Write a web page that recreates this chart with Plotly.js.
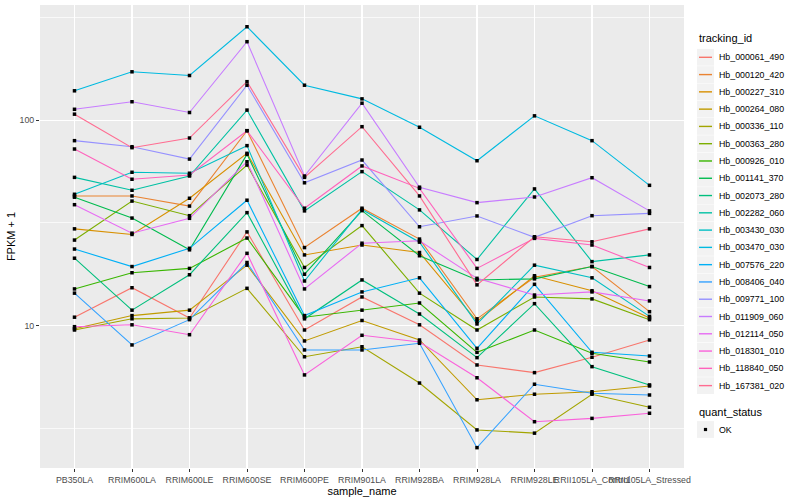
<!DOCTYPE html>
<html><head><meta charset="utf-8">
<script src="https://cdn.plot.ly/plotly-3.0.1.min.js"></script>
<style>body{margin:0;background:#fff}#chart{width:800px;height:500px}</style>
</head><body><div id="chart"></div>
<script>
const samples = ["PB350LA","RRIM600LA","RRIM600LE","RRIM600SE","RRIM600PE","RRIM901LA","RRIM928BA","RRIM928LA","RRIM928LE","RRII105LA_Control","RRII105LA_Stressed"];
const trackingIds = ["Hb_000061_490","Hb_000120_420","Hb_000227_310","Hb_000264_080","Hb_000336_110","Hb_000363_280","Hb_000926_010","Hb_001141_370","Hb_002073_280","Hb_002282_060","Hb_003430_030","Hb_003470_030","Hb_007576_220","Hb_008406_040","Hb_009771_100","Hb_011909_060","Hb_012114_050","Hb_018301_010","Hb_118840_050","Hb_167381_020"];
const colors = ["#F8766D","#EA8331","#D89000","#C09B00","#A3A500","#7CAE00","#39B600","#00BB4E","#00BF7D","#00C1A3","#00BFC4","#00BAE0","#00B0F6","#35A2FF","#9590FF","#C77CFF","#E76BF3","#FA62DB","#FF62BC","#FF6C91"];
const quantStatus = ["OK"];

// FPKM + 1 per sample, one array per tracking_id
const hb_000061_490 = [11.0, 15.3, 10.9, 28.6, 9.53, 13.8, 10.1, 6.44, 5.91, 7.02, 8.52];
const hb_000120_420 = [42.8, 42.8, 38.2, 88.9, 24.0, 37.3, 26.4, 10.8, 17.2, 19.4, 11.7];
const hb_000227_310 = [29.6, 27.8, 41.7, 69.0, 22.1, 24.7, 22.7, 10.5, 17.5, 14.8, 10.9];
const hb_000264_080 = [9.67, 11.2, 11.9, 19.7, 8.43, 10.6, 8.52, 4.36, 4.64, 4.77, 5.09];
const hb_000336_110 = [9.53, 10.8, 10.9, 15.2, 7.06, 7.90, 5.26, 3.11, 3.00, 4.64, 4.01];
const hb_000363_280 = [26.1, 40.4, 34.3, 60.5, 19.2, 30.7, 14.4, 9.53, 13.8, 13.5, 10.7];
const hb_000926_010 = [15.1, 18.1, 19.0, 26.7, 11.0, 11.9, 12.9, 7.42, 9.53, 7.34, 6.66];
const hb_001141_370 = [42.2, 33.4, 23.4, 68.2, 17.8, 36.3, 21.9, 16.7, 16.9, 19.4, 15.5];
const hb_002073_280 = [21.3, 11.9, 17.7, 35.5, 10.8, 16.7, 11.4, 6.99, 12.8, 6.32, 5.15];
const hb_002282_060 = [52.7, 45.6, 53.5, 112, 36.2, 56.2, 36.6, 21.0, 46.3, 20.5, 22.1];
const hb_003430_030 = [43.6, 55.8, 55.2, 75.2, 16.5, 36.8, 25.5, 10.2, 19.7, 17.1, 11.1];
const hb_003470_030 = [139, 172, 165, 285, 148, 127, 92.4, 63.5, 105, 79.5, 48.2];
const hb_007576_220 = [23.6, 19.4, 23.8, 40.8, 11.2, 14.6, 17.1, 7.76, 15.9, 7.42, 7.12];
const hb_008406_040 = [14.4, 8.06, 10.7, 20.3, 7.62, 7.62, 8.21, 2.55, 5.19, 4.69, 4.60];
const hb_009771_100 = [79.5, 74.3, 64.7, 148, 49.6, 64.0, 30.3, 34.2, 26.9, 34.3, 35.2];
const hb_011909_060 = [113, 123, 109, 241, 53.5, 121, 47.2, 39.7, 42.3, 52.5, 36.2];
const hb_012114_050 = [38.8, 28.2, 33.3, 62.8, 15.1, 25.2, 25.9, 17.0, 14.1, 14.6, 13.2];
const hb_018301_010 = [9.89, 10.1, 9.04, 22.5, 5.76, 8.98, 8.33, 5.58, 3.41, 3.54, 3.75];
const hb_118840_050 = [72.4, 51.6, 54.1, 88.9, 37.3, 59.9, 46.6, 19.0, 26.6, 24.7, 19.2];
const hb_167381_020 = [107, 73.5, 81.9, 154, 52.7, 93.0, 42.8, 15.8, 27.1, 25.6, 29.6];

const seriesValues = [hb_000061_490, hb_000120_420, hb_000227_310, hb_000264_080, hb_000336_110, hb_000363_280, hb_000926_010, hb_001141_370, hb_002073_280, hb_002282_060, hb_003430_030, hb_003470_030, hb_007576_220, hb_008406_040, hb_009771_100, hb_011909_060, hb_012114_050, hb_018301_010, hb_118840_050, hb_167381_020];

const FONT = "Liberation Sans, Arial, Helvetica, sans-serif";
const traces = [];
seriesValues.forEach((vals, i) => {
  traces.push({type:"scatter", mode:"lines", x:samples, y:vals, name:trackingIds[i],
    line:{color:colors[i], width:1.1}, showlegend:false, hoverinfo:"x+y+name"});
});
seriesValues.forEach((vals, i) => {
  traces.push({type:"scatter", mode:"markers", x:samples, y:vals, name:trackingIds[i],
    marker:{color:"#000000", symbol:"square", size:3.5}, showlegend:false, hoverinfo:"skip"});
});

// plot area in pixels: x 40..684, y 5..468
const L = 40, R = 684, T = 5, B = 468;
const px = v => (v - L) / (R - L);
const py = v => (B - v) / (B - T);

const shapes = [], annotations = [];
annotations.push({xref:"paper", yref:"paper", x:px(697), y:py(38), text:"tracking_id", showarrow:false,
  xanchor:"left", yanchor:"middle", font:{family:FONT, size:11, color:"#000"}});
trackingIds.forEach((id, i) => {
  const cy = 57.3 + 17.28 * i;
  shapes.push({type:"rect", xref:"paper", yref:"paper", x0:px(697), x1:px(714), y0:py(cy-8.4), y1:py(cy+8.4),
    fillcolor:"#F2F2F2", line:{width:0}});
  shapes.push({type:"line", xref:"paper", yref:"paper", x0:px(699), x1:px(712), y0:py(cy), y1:py(cy),
    line:{color:colors[i], width:1.4}});
  annotations.push({xref:"paper", yref:"paper", x:px(716.5), y:py(cy), text:id, showarrow:false,
    xanchor:"left", yanchor:"middle", font:{family:FONT, size:8.8, color:"#000"}});
});
annotations.push({xref:"paper", yref:"paper", x:px(697), y:py(412), text:"quant_status", showarrow:false,
  xanchor:"left", yanchor:"middle", font:{family:FONT, size:11, color:"#000"}});
quantStatus.forEach((q, j) => {
  const cy = 429.5 + 17.28 * j;
  shapes.push({type:"rect", xref:"paper", yref:"paper", x0:px(697), x1:px(714), y0:py(cy-8.4), y1:py(cy+8.4),
    fillcolor:"#F2F2F2", line:{width:0}});
  shapes.push({type:"rect", xref:"paper", yref:"paper", x0:px(703.9), x1:px(707.1), y0:py(cy-1.6), y1:py(cy+1.6),
    fillcolor:"#000", line:{width:0}});
  annotations.push({xref:"paper", yref:"paper", x:px(716.5), y:py(cy), text:q, showarrow:false,
    xanchor:"left", yanchor:"middle", font:{family:FONT, size:8.8, color:"#000"}});
});

const layout = {
  width:800, height:500,
  margin:{l:L, r:800-R, t:T, b:500-B, pad:0},
  paper_bgcolor:"#FFFFFF", plot_bgcolor:"#EBEBEB",
  font:{family:FONT, size:8.8, color:"#4D4D4D"},
  showlegend:false,
  xaxis:{type:"category", categoryorder:"array", categoryarray:samples, range:[-0.6, 10.6],
    showgrid:true, gridcolor:"#FFFFFF", gridwidth:1.4, zeroline:false, showline:false,
    ticks:"outside", ticklen:3, tickwidth:1, tickcolor:"#333333", tickangle:0,
    tickfont:{family:FONT, size:8.8, color:"#4D4D4D"}, automargin:false,
    title:{text:"sample_name", font:{family:FONT, size:11, color:"#000"}, standoff:0}},
  yaxis:{type:"log", range:[0.3075, 2.5606], tickmode:"array", tickvals:[10, 100], ticktext:["10","100"],
    showgrid:true, gridcolor:"#FFFFFF", gridwidth:1.4, zeroline:false, showline:false,
    ticks:"outside", ticklen:3, tickwidth:1, tickcolor:"#333333",
    tickfont:{family:FONT, size:8.8, color:"#4D4D4D"}, automargin:false,
    minor:{tickmode:"array", tickvals:[3.1623, 31.623, 316.23], showgrid:true, gridcolor:"#FFFFFF", gridwidth:0.7, ticks:""},
    title:{text:"FPKM + 1", font:{family:FONT, size:11, color:"#000"}, standoff:1}},
  shapes:shapes, annotations:annotations
};
Plotly.newPlot("chart", traces, layout, {staticPlot:true, displayModeBar:false});
</script></body></html>
